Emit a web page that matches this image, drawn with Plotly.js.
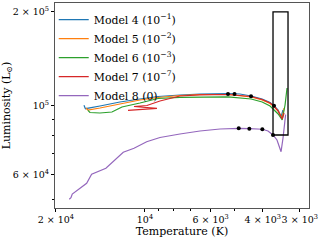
<!DOCTYPE html>
<html><head><meta charset="utf-8">
<script src="https://cdn.plot.ly/plotly-3.0.1.min.js"></script>
<style>html,body{margin:0;padding:0;background:#fff}#c{width:320px;height:240px}</style>
</head><body><div id="c"></div>
<script>
// Data (Temperature in K, Luminosity in L_sun)
const names = ["Model 4 (10<sup>−1</sup>)", "Model 5 (10<sup>−2</sup>)", "Model 6 (10<sup>−3</sup>)", "Model 7 (10<sup>−7</sup>)", "Model 8 (0)"];
const colors = ["#1f77b4", "#ff7f0e", "#2ca02c", "#d62728", "#9467bd"];

const m4T = [16070, 15890, 14190, 12150, 10400, 9040, 7620, 6520, 5240, 4780, 4380, 4020, 3780, 3670, 3550, 3470, 3420];
const m4L = [100150, 97660, 99630, 102640, 104930, 106880, 108090, 108900, 109280, 108900, 107280, 104930, 102240, 100000, 96720, 91830, 96720];

const m5T = [15820, 15580, 14190, 12150, 10400, 9040, 7620, 6520, 5240, 4380, 4020, 3780, 3670, 3550, 3440, 3390];
const m5L = [98170, 96720, 98170, 101110, 104160, 106100, 107690, 108490, 108490, 106480, 104160, 101490, 99260, 96000, 91160, 98170];

const m6T = [15580, 15340, 14190, 12930, 12340, 11960, 10400, 9040, 7620, 6520, 5240, 4380, 4020, 3780, 3670, 3550, 3440, 3365, 3313];
const m6L = [96520, 94960, 94610, 95310, 97440, 98900, 101860, 105320, 106260, 106480, 106660, 104930, 102640, 99630, 97080, 93900, 89830, 100370, 113800];

const m7T = [11410, 9110, 10890, 9850, 8900, 7620, 6520, 5240, 4380, 4020, 3780, 3670, 3550, 3440, 3390];
const m7L = [96520, 97950, 99260, 100000, 103390, 107280, 108240, 108490, 106880, 104540, 101860, 99630, 96000, 90490, 94610];

const m8T = [18020, 17780, 17600, 15740, 15140, 13550, 11840, 10890, 9870, 8900, 7620, 6520, 5580, 4824, 4442, 4015, 3842, 3695, 3582, 3498, 3471, 3418, 3379, 3350];
const m8L = [49930, 50520, 51930, 56210, 60110, 62840, 70720, 72850, 76490, 78900, 80970, 82800, 84030, 84480, 84230, 83860, 82800, 80380, 77460, 73010, 71030, 78620, 88700, 93500];

const dotT = [5244, 4984, 4384, 3666, 4824, 4442, 4015, 3695];
const dotL = [108900, 108900, 107040, 99850, 84480, 84230, 83860, 80380];

const boxT = [3695, 3288, 3288, 3695, 3695];
const boxL = [80380, 80380, 200000, 200000, 80380];

const xTickVals = [20000, 10000, 6000, 4000, 3000];
const xTickText = ["2 × 10<sup>4</sup>", "10<sup>4</sup>", "6 × 10<sup>3</sup>", "4 × 10<sup>3</sup>", "3 × 10<sup>3</sup>"];
const xMinor = [9000, 8000, 7000, 5000];
const yTickVals = [200000, 100000, 60000];
const yTickText = ["2 × 10<sup>5</sup>", "10<sup>5</sup>", "6 × 10<sup>4</sup>"];
const yMinor = [50000, 70000, 80000, 90000];

const series = [[m4T, m4L], [m5T, m5L], [m6T, m6L], [m7T, m7L], [m8T, m8L]];
const traces = series.map((s, i) => ({
  x: s[0], y: s[1], type: "scatter", mode: "lines", name: names[i],
  line: {color: colors[i], width: 1.2}
}));
traces.push({x: dotT, y: dotL, type: "scatter", mode: "markers", showlegend: false,
  marker: {color: "black", size: 4}});
traces.push({x: boxT, y: boxL, type: "scatter", mode: "lines", showlegend: false,
  line: {color: "black", width: 1.3}});

const font = {family: "DejaVu Serif", size: 10, color: "#000"};
const layout = {
  width: 320, height: 240,
  margin: {l: 55, r: 11, t: 3, b: 32},
  paper_bgcolor: "#fff", plot_bgcolor: "#fff",
  font: font,
  showlegend: true,
  legend: {x: -0.005, y: 0.99, xanchor: "left", yanchor: "top", bgcolor: "rgba(255,255,255,0)",
    font: {family: "DejaVu Serif", size: 10.9}, tracegroupgap: 0},
  xaxis: {type: "log", range: [Math.log10(20130), Math.log10(2793)], tickmode: "array",
    tickvals: xTickVals, ticktext: xTickText, tickangle: 0, ticks: "outside", ticklen: 3, tickcolor: "#000",
    showgrid: false, zeroline: false, showline: true, mirror: true, linecolor: "#555", linewidth: 1,
    minor: {tickvals: xMinor, ticks: "outside", ticklen: 2, tickcolor: "#000", showgrid: false},
    title: {text: "Temperature (K)", font: {family: "DejaVu Serif", size: 11}, standoff: 0},
    tickfont: {family: "DejaVu Serif", size: 9.5}},
  yaxis: {type: "log", range: [4.6704, 5.3296], tickmode: "array",
    tickvals: yTickVals, ticktext: yTickText, ticks: "outside", ticklen: 3, tickcolor: "#000",
    showgrid: false, zeroline: false, showline: true, mirror: true, linecolor: "#555", linewidth: 1,
    minor: {tickvals: yMinor, ticks: "outside", ticklen: 2, tickcolor: "#000", showgrid: false},
    title: {text: "Luminosity (L<sub>⊙</sub>)", font: {family: "DejaVu Serif", size: 11}, standoff: 3},
    tickfont: {family: "DejaVu Serif", size: 9.5}}
};
Plotly.newPlot("c", traces, layout, {staticPlot: true, displayModeBar: false});
</script></body></html>
